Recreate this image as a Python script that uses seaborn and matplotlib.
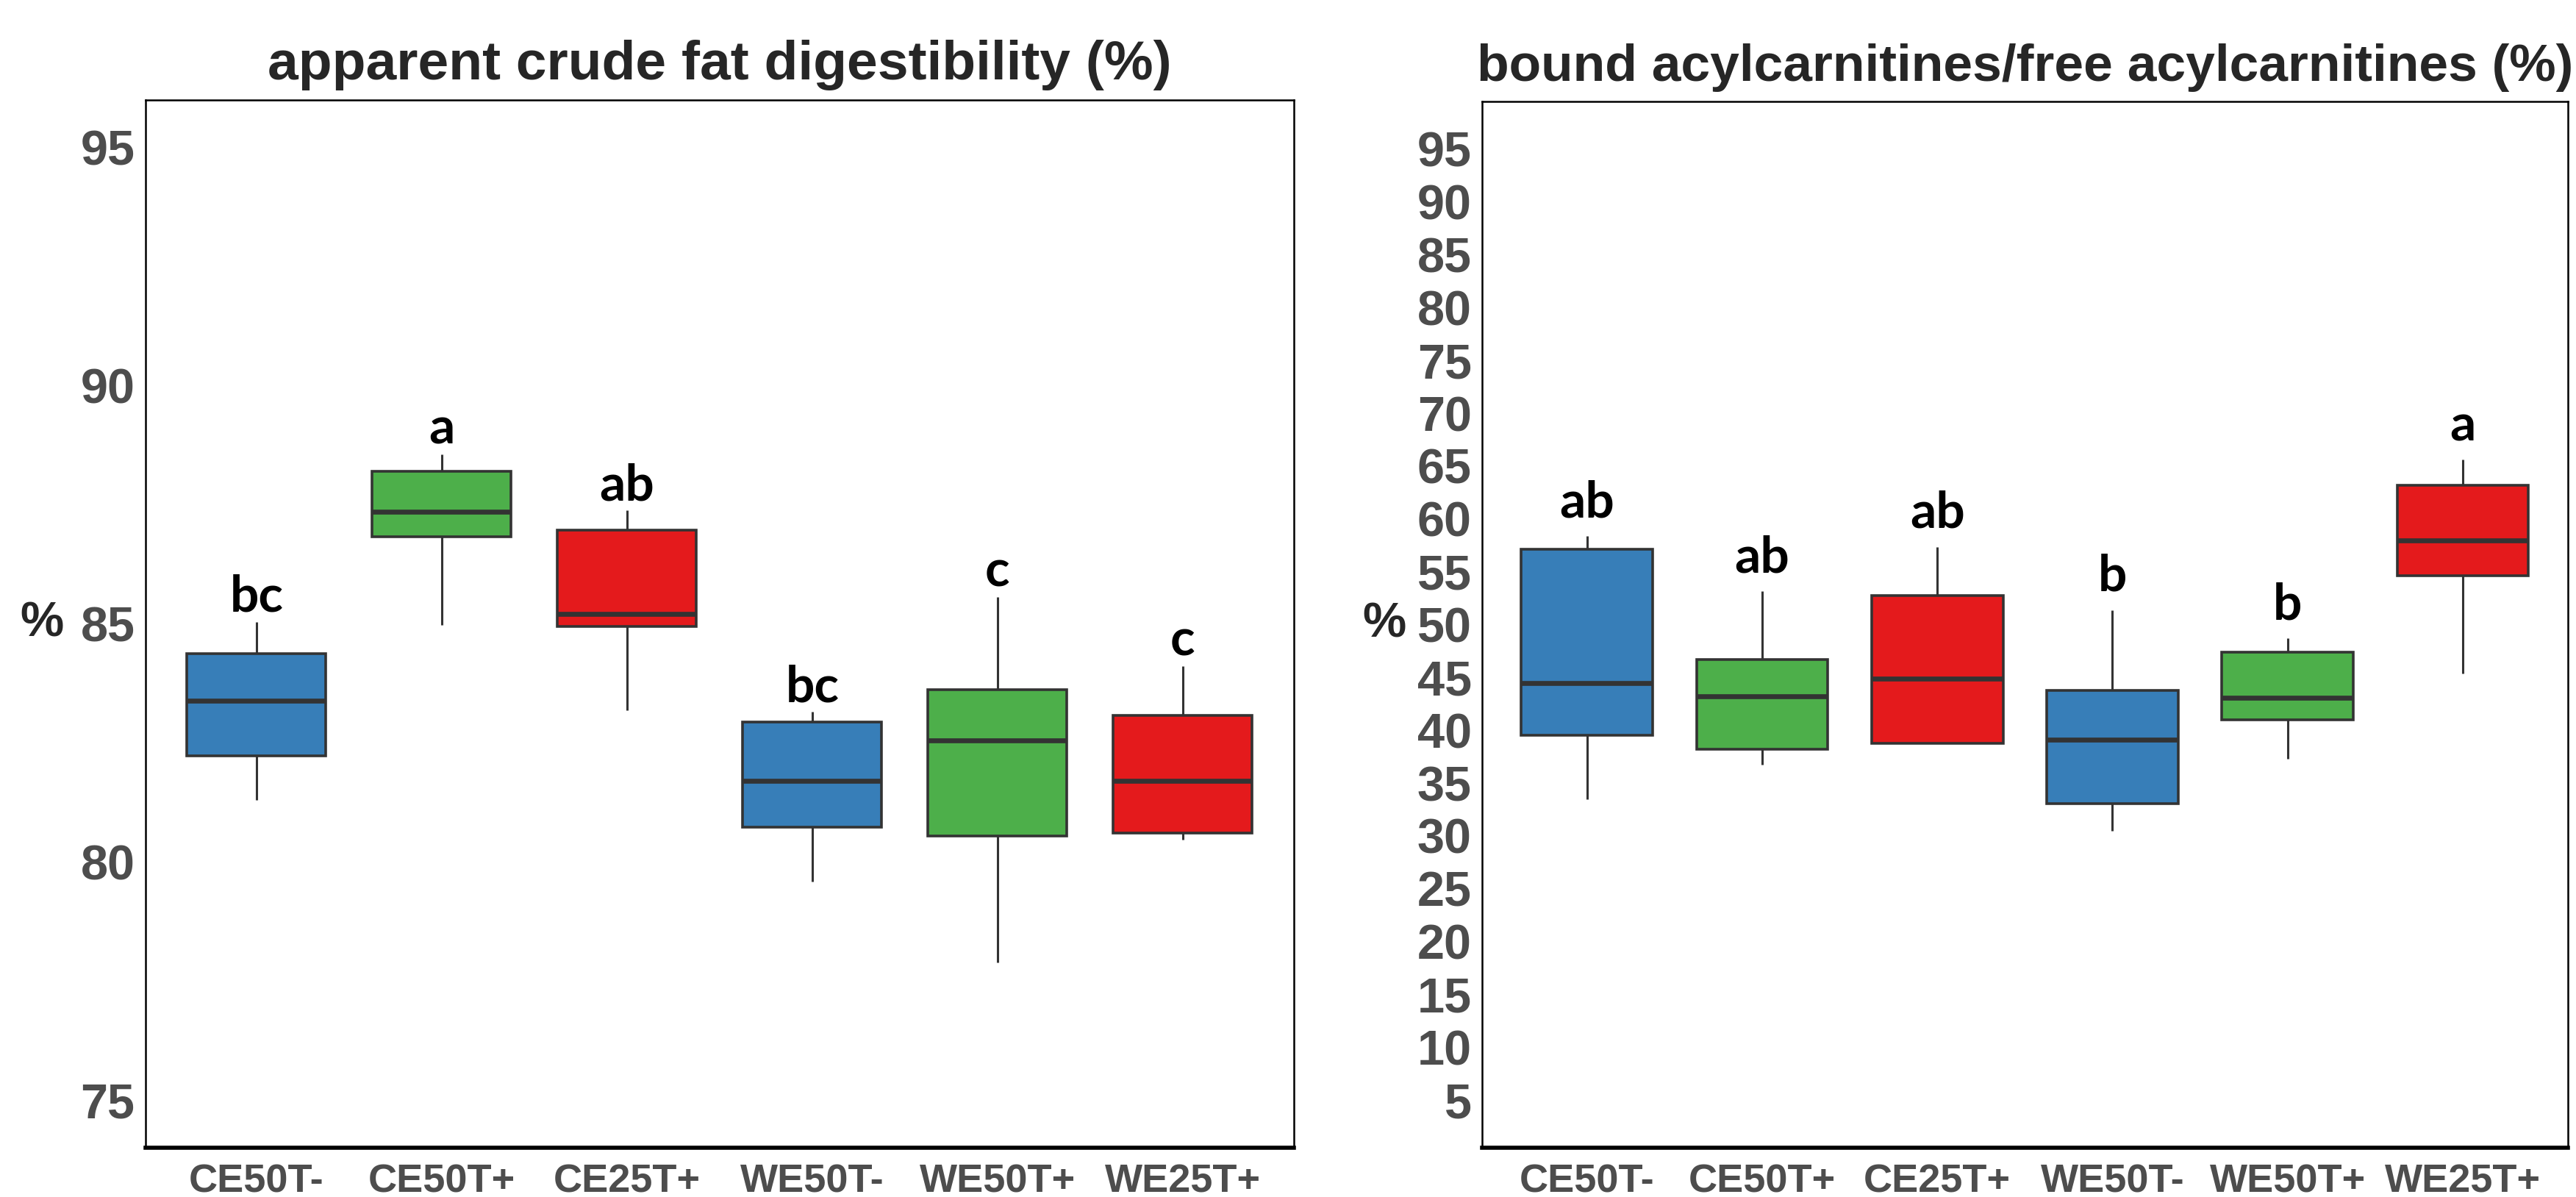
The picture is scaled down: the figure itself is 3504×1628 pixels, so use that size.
import matplotlib
matplotlib.use('Agg')
import matplotlib.pyplot as plt
import seaborn as sns
import pandas as pd

groups = ['CE50T-', 'CE50T+', 'CE25T+', 'WE50T-', 'WE50T+', 'WE25T+']
colors = ['#377EB8', '#4DAF4A', '#E41A1C', '#377EB8', '#4DAF4A', '#E41A1C']

# five-number summaries: min, q1, median, q3, max
fat_min = [81.30, 84.98, 83.19, 79.58, 77.89, 80.46]
fat_q1 = [82.23, 86.83, 84.95, 80.73, 80.55, 80.61]
fat_med = [83.39, 87.36, 85.20, 81.70, 82.55, 81.71]
fat_q3 = [84.38, 88.21, 86.97, 82.94, 83.61, 83.07]
fat_max = [85.04, 88.56, 87.38, 83.15, 85.56, 84.11]
fat_letters = ['bc', 'a', 'ab', 'bc', 'c', 'c']

acyl_min = [33.50, 36.75, 38.79, 30.49, 37.30, 45.35]
acyl_q1 = [39.52, 38.22, 38.79, 33.09, 41.02, 54.66]
acyl_med = [44.50, 43.21, 44.88, 39.09, 43.07, 57.97]
acyl_q3 = [57.16, 46.67, 52.78, 43.78, 47.39, 63.19]
acyl_max = [58.38, 53.15, 57.36, 51.39, 48.72, 65.61]
acyl_letters = ['ab', 'ab', 'ab', 'b', 'b', 'a']


def to_long(mins, q1s, meds, q3s, maxs):
    rows = []
    for g, a, b, c, d, e in zip(groups, mins, q1s, meds, q3s, maxs):
        for v in (a, b, c, d, e):
            rows.append({'group': g, 'value': v})
    return pd.DataFrame(rows)


def draw_panel(ax, df, maxs, letters, title, title_size, ticks, ylim, offset):
    sns.boxplot(data=df, x='group', y='value', hue='group', order=groups,
                hue_order=groups, palette=colors, saturation=1, width=0.75,
                whis=(0, 100), showcaps=False, linewidth=1.3, linecolor='#333333',
                medianprops=dict(linewidth=2.4, color='#333333'),
                whiskerprops=dict(linewidth=1.1, color='#333333'),
                legend=False, ax=ax)
    for i, (m, lab) in enumerate(zip(maxs, letters)):
        ax.text(i, m + offset, lab, ha='center', va='baseline', fontsize=25,
                fontweight='bold', family=['Lato', 'DejaVu Sans'], color='black')
    ax.set_xlim(-0.6, 5.6)
    ax.set_ylim(*ylim)
    ax.set_yticks(ticks)
    ax.set_title(title, fontsize=title_size, fontweight='bold',
                 family='Liberation Sans', pad=10)
    ax.set_xlabel('')
    ax.set_ylabel('%', rotation=0, fontsize=24, fontweight='bold',
                  family='Liberation Sans', ha='center', va='center')
    ax.yaxis.set_label_coords(-0.09, 0.5)
    ax.tick_params(axis='both', length=3.6, width=1.2, color='#333333',
                   labelcolor='#4D4D4D')
    ax.tick_params(axis='y', pad=1.5)
    ax.tick_params(axis='x', pad=4)
    for lab in ax.get_yticklabels():
        lab.set_fontsize(24)
        lab.set_fontweight('bold')
        lab.set_family('Liberation Sans')
    for lab in ax.get_xticklabels():
        lab.set_fontsize(19.5)
        lab.set_fontweight('bold')
        lab.set_family('Liberation Sans')
    for side in ['top', 'left', 'right']:
        ax.spines[side].set_linewidth(0.9)
        ax.spines[side].set_color('black')
    ax.spines['bottom'].set_linewidth(2.0)
    ax.spines['bottom'].set_color('black')


sns.set_theme(style='white')
plt.rcParams['font.family'] = ['Liberation Sans', 'DejaVu Sans']

fig = plt.figure(figsize=(17.52, 8.14), dpi=200)
ax1 = fig.add_axes([0.0564, 0.0412, 0.4459, 0.8753])
ax2 = fig.add_axes([0.5753, 0.0412, 0.4215, 0.8740])

draw_panel(ax1, to_long(fat_min, fat_q1, fat_med, fat_q3, fat_max), fat_max,
           fat_letters, 'apparent crude fat digestibility (%)', 27,
           [75, 80, 85, 90, 95], (74, 96), 0.22)
draw_panel(ax2, to_long(acyl_min, acyl_q1, acyl_med, acyl_q3, acyl_max), acyl_max,
           acyl_letters, 'bound acylcarnitines/free acylcarnitines (%)', 25.7,
           list(range(5, 100, 5)), (0.5, 99.5), 1.8)

fig.savefig('out.png', dpi=200)
